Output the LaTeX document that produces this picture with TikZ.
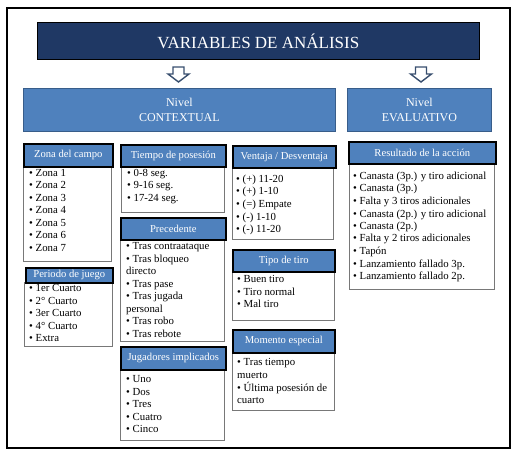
\documentclass[tikz,border=0pt]{standalone}
\usepackage{fontspec}
\setmainfont{Liberation Serif}
\usetikzlibrary{positioning}
\definecolor{navy}{RGB}{31,56,100}
\definecolor{hdrblue}{RGB}{79,129,189}
\definecolor{lvlborder}{RGB}{56,93,138}
\definecolor{arrowc}{RGB}{56,78,110}
\definecolor{bodygray}{RGB}{120,120,120}
\begin{document}
\begin{tikzpicture}[x=1pt,y=-1pt,
  hdr/.style={draw=black, line width=1.6pt, fill=hdrblue, text=white, inner sep=0pt,
    font=\fontsize{10.6}{12}\selectfont, anchor=north west},
  bodybox/.style={draw=bodygray, line width=0.9pt, fill=white, inner sep=0pt, anchor=north west},
  lst/.style={anchor=base west, inner sep=0pt, font=\fontsize{10.8}{12.5}\selectfont},
  lvl/.style={draw=lvlborder, line width=0.8pt, fill=hdrblue, text=white, inner sep=0pt,
    align=center, font=\fontsize{12}{15}\selectfont, anchor=north west},
  blockarrow/.style={draw=arrowc, line width=1.4pt, fill=white, line join=miter}
]
\useasboundingbox (0,0) rectangle (519,457);
\draw[line width=2pt] (7,8) rectangle (510,448);

% title
\node[draw=black, line width=0.8pt, fill=navy, text=white, inner sep=0pt, anchor=north west,
  minimum width=442pt, minimum height=37pt, font=\fontsize{17}{20}\selectfont]
  (title) at (37,22) {VARIABLES DE ANÁLISIS};

% block arrows
\path[blockarrow] (173,67) -- (184,67) -- (184,74) -- (189,74) -- (178.5,82) -- (168,74) -- (173,74) -- cycle;
\path[blockarrow] (415.5,67) -- (426.5,67) -- (426.5,74) -- (431.5,74) -- (421,82) -- (410.5,74) -- (415.5,74) -- cycle;

% levels
\node[lvl, minimum width=312pt, minimum height=43pt] (ctx) at (23,88) {Nivel\\CONTEXTUAL};
\node[lvl, minimum width=144pt, minimum height=43pt] (eva) at (347,88) {Nivel\\EVALUATIVO};

% bodies
\node[bodybox, minimum width=88pt, minimum height=95pt] (zonab) at (23,166) {};
\node[bodybox, minimum width=88pt, minimum height=64pt] (perb) at (24,282) {};
\node[bodybox, minimum width=103pt, minimum height=46pt] (tiemb) at (121,166) {};
\node[bodybox, minimum width=104pt, minimum height=102pt] (precb) at (120,239) {};
\node[bodybox, minimum width=104pt, minimum height=71pt] (jugb) at (120,369) {};
\node[bodybox, minimum width=101pt, minimum height=72pt] (ventb) at (232,167) {};
\node[bodybox, minimum width=102pt, minimum height=49pt] (tipob) at (232,271) {};
\node[bodybox, minimum width=102pt, minimum height=58pt] (momb) at (232,352) {};
\node[bodybox, minimum width=145pt, minimum height=126pt] (resb) at (349,163) {};

% headers
\node[hdr, minimum width=89pt, minimum height=23pt] (zonah) at (23,143) {Zona del campo};
\node[hdr, minimum width=87pt, minimum height=15pt] (perh) at (25,267) {Periodo de juego};
\node[hdr, minimum width=105pt, minimum height=22pt] (tiemh) at (120,144) {Tiempo de posesión};
\node[hdr, minimum width=105pt, minimum height=22pt] (prech) at (120,217) {Precedente};
\node[hdr, minimum width=105pt, minimum height=23pt] (jugh) at (120,346) {Jugadores implicados};
\node[hdr, minimum width=103pt, minimum height=22pt] (venth) at (232,145) {Ventaja / Desventaja};
\node[hdr, minimum width=102pt, minimum height=22pt] (tipoh) at (232,249) {Tipo de tiro};
\node[hdr, minimum width=102pt, minimum height=23pt] (momh) at (232,329) {Momento especial};
\node[hdr, minimum width=147pt, minimum height=22pt] (resh) at (348,141) {Resultado de la acción};

% lists
\node[lst] (zonat) at (29,176.5) {\begin{tabular}[t]{@{}l@{}}
\textbullet\ Zona 1\\ \textbullet\ Zona 2\\ \textbullet\ Zona 3\\ \textbullet\ Zona 4\\
\textbullet\ Zona 5\\ \textbullet\ Zona 6\\ \textbullet\ Zona 7\end{tabular}};
\node[lst] (pert) at (29,291.5) {\begin{tabular}[t]{@{}l@{}}
\textbullet\ 1er Cuarto\\ \textbullet\ 2° Cuarto\\ \textbullet\ 3er Cuarto\\ \textbullet\ 4° Cuarto\\
\textbullet\ Extra\end{tabular}};
\node[lst] (tiemt) at (127,176.5) {\begin{tabular}[t]{@{}l@{}}
\textbullet\ 0-8 seg.\\ \textbullet\ 9-16 seg.\\ \textbullet\ 17-24 seg.\end{tabular}};
\node[lst] (prect) at (126,249.5) {\begin{tabular}[t]{@{}l@{}}
\textbullet\ Tras contraataque\\ \textbullet\ Tras bloqueo\\ directo\\ \textbullet\ Tras pase\\
\textbullet\ Tras jugada\\ personal\\ \textbullet\ Tras robo\\ \textbullet\ Tras rebote\end{tabular}};
\node[lst] (jugt) at (126,382.5) {\begin{tabular}[t]{@{}l@{}}
\textbullet\ Uno\\ \textbullet\ Dos\\ \textbullet\ Tres\\ \textbullet\ Cuatro\\ \textbullet\ Cinco\end{tabular}};
\node[lst] (ventt) at (236,182.5) {\begin{tabular}[t]{@{}l@{}}
\textbullet\ (+) 11-20\\ \textbullet\ (+) 1-10\\ \textbullet\ (=) Empate\\ \textbullet\ (-) 1-10\\
\textbullet\ (-) 11-20\end{tabular}};
\node[lst] (tipot) at (237,282.5) {\begin{tabular}[t]{@{}l@{}}
\textbullet\ Buen tiro\\ \textbullet\ Tiro normal\\ \textbullet\ Mal tiro\end{tabular}};
\node[lst] (momt) at (237,365.5) {\begin{tabular}[t]{@{}l@{}}
\textbullet\ Tras tiempo\\ muerto\\ \textbullet\ Última posesión de\\ cuarto\end{tabular}};
\node[lst] (rest) at (353,179.5) {\begin{tabular}[t]{@{}l@{}}
\textbullet\ Canasta (3p.) y tiro adicional\\ \textbullet\ Canasta (3p.)\\
\textbullet\ Falta y 3 tiros adicionales\\ \textbullet\ Canasta (2p.) y tiro adicional\\
\textbullet\ Canasta (2p.)\\ \textbullet\ Falta y 2 tiros adicionales\\ \textbullet\ Tapón\\
\textbullet\ Lanzamiento fallado 3p.\\ \textbullet\ Lanzamiento fallado 2p.\end{tabular}};
\end{tikzpicture}
\end{document}
